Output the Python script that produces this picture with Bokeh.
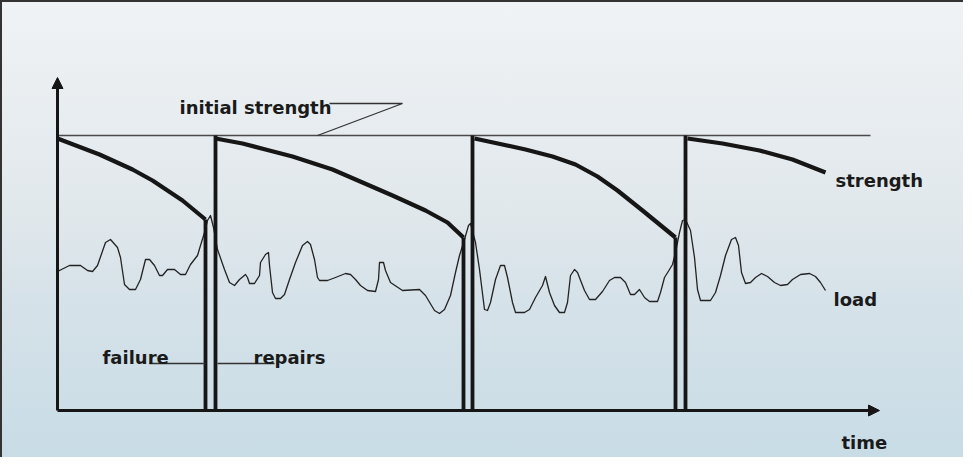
from bokeh.plotting import figure
from bokeh.models import Range1d, Arrow, NormalHead
from bokeh.embed import file_html
from bokeh.resources import INLINE
from bokeh.core.properties import value

# ---------------- data (time units, strength/load level units) ----------------
INITIAL_STRENGTH = 110.0
AXIS_TIME_END = 82.2
AXIS_LEVEL_END = 133.2
INITIAL_LINE_END = 81.3

# strength decay between repairs
s1_t = [0.0, 4.2, 7.5, 9.5, 12.5, 14.8]
s1_v = [108.8, 102.4, 96.4, 92.0, 84.0, 76.4]
s2_t = [15.8, 18.5, 20.8, 23.5, 27.5, 30.5, 33.5, 36.8, 39.0, 40.6]
s2_v = [108.8, 106.8, 104.4, 101.6, 96.4, 91.2, 86.0, 80.0, 75.2, 69.2]
s3_t = [41.7, 46.8, 49.5, 51.8, 54.0, 56.0, 58.5, 61.8]
s3_v = [108.8, 104.4, 101.6, 98.4, 93.6, 88.0, 80.0, 69.2]
s4_t = [63.0, 66.5, 70.2, 73.5, 76.8]
s4_v = [108.8, 106.8, 104.0, 100.4, 95.2]

failure_times = [14.8, 40.6, 61.8]
repair_times = [15.8, 41.5, 62.8]

# fluctuating load
load_t = [0.0, 0.2, 1.2, 2.3, 3.0, 3.5, 4.0, 4.8, 5.3, 6.0, 6.3, 6.7, 7.2, 7.8, 8.3, 8.8,
          9.2, 9.7, 10.2, 10.5, 11.0, 11.7, 12.3, 12.8, 13.3, 14.0, 14.3, 14.7, 15.0, 15.3,
          15.6, 16.0, 16.7, 17.2, 17.7, 18.2, 18.8, 19.0, 19.2, 19.7, 20.2, 20.3, 20.8, 21.1,
          21.2, 21.5, 21.8, 22.3, 22.7, 23.2, 23.8, 24.5, 25.0, 25.3, 25.7, 26.0, 26.2, 27.0,
          27.8, 28.8, 29.3, 29.8, 30.3, 31.0, 31.8, 32.1, 32.2, 32.6, 32.8, 33.3, 34.5, 36.2,
          36.8, 37.7, 38.2, 38.7, 39.3, 39.8, 40.2, 40.7, 41.1, 41.3, 41.8, 42.2, 42.7, 43.0,
          43.3, 43.8, 44.3, 44.7, 45.0, 45.5, 45.8, 46.7, 47.2, 47.8, 48.5, 48.8, 49.2, 49.7,
          50.2, 50.7, 51.0, 51.3, 51.7, 52.0, 52.7, 53.2, 53.8, 54.5, 55.2, 55.7, 56.3, 56.8,
          57.3, 57.7, 58.2, 58.7, 59.2, 60.0, 60.3, 60.7, 61.2, 61.5, 61.8, 62.2, 62.5, 62.8,
          63.3, 63.7, 64.0, 64.3, 65.3, 65.8, 66.3, 66.8, 67.4, 67.8, 68.1, 68.4, 68.8, 69.3,
          69.8, 70.4, 71.0, 71.7, 72.3, 73.0, 73.5, 74.3, 75.2, 75.8, 76.3, 76.8]
load_v = [56.0, 56.0, 58.0, 58.0, 56.0, 55.6, 58.0, 67.2, 68.4, 65.2, 61.2, 50.4, 48.4, 48.4, 52.4, 60.4,
          60.4, 58.0, 54.0, 54.0, 56.4, 56.4, 54.4, 54.4, 58.4, 62.0, 66.0, 71.2, 76.0, 78.0,
          73.2, 64.4, 56.4, 51.2, 50.0, 52.4, 54.4, 53.2, 50.8, 50.8, 54.0, 59.2, 62.4, 63.2,
          58.0, 47.2, 44.8, 44.8, 46.4, 52.4, 59.2, 66.0, 67.6, 66.4, 60.4, 53.2, 52.0, 52.0,
          53.2, 54.8, 54.4, 52.4, 50.0, 48.0, 47.6, 52.4, 59.2, 59.2, 56.0, 51.2, 48.0, 48.4,
          46.0, 40.0, 38.8, 40.4, 46.0, 55.2, 62.0, 68.4, 74.0, 74.8, 67.2, 56.4, 40.4, 40.0,
          43.2, 52.4, 58.0, 58.0, 53.2, 43.2, 39.2, 39.2, 40.4, 45.2, 50.0, 53.6, 47.2, 42.0,
          39.2, 39.2, 43.2, 54.0, 56.4, 55.2, 48.0, 44.4, 44.4, 47.6, 52.0, 53.2, 53.2, 51.2,
          46.4, 46.4, 48.4, 45.2, 43.6, 43.6, 47.2, 53.2, 56.4, 58.4, 63.2, 71.2, 76.0, 76.4,
          72.0, 61.2, 48.4, 44.0, 44.0, 47.2, 54.0, 62.0, 68.4, 69.2, 66.0, 55.2, 50.8, 51.2,
          53.2, 54.8, 53.6, 51.2, 50.0, 50.4, 52.4, 54.4, 54.8, 53.6, 51.2, 48.0]

# labels
label_text = ["initial strength", "strength", "load", "failure", "repairs", "time"]
label_t = [12.2, 77.8, 77.6, 4.5, 19.6, 78.4]
label_v = [121.2, 92.0, 44.4, 21.2, 21.2, -12.8]

# leader lines
init_leader_t = [27.2, 34.5, 26.0]
init_leader_v = [122.8, 122.8, 110.0]
failure_leader_t = [9.2, 14.8]
repairs_leader_t = [16.0, 21.7]
leader_level = 18.8

# ---------------- figure ----------------
W, H = 963, 457
p = figure(width=W, height=H, output_backend="svg", toolbar_location=None,
           x_range=Range1d(-5.5, 90.8), y_range=Range1d(-19.6, 163.2),
           min_border=0, min_border_left=0, min_border_right=0,
           min_border_top=0, min_border_bottom=0,
           x_axis_location=None, y_axis_location=None,
           styles={"background": "linear-gradient(to bottom, #f0f3f5 0%, #ebeff2 15%, #e1e8ec 45%, #d6e2e9 65%, #c8dce6 100%)",
                   "border-top": "2px solid #333333",
                   "border-left": "2px solid #333333"})
p.background_fill_color = None
p.border_fill_color = None
p.outline_line_color = None
p.grid.visible = False

ink = "#161616"

# initial strength reference line
p.line([0, INITIAL_LINE_END], [INITIAL_STRENGTH, INITIAL_STRENGTH], line_color="#4a4a4a", line_width=1.5)

# load
p.line(load_t, load_v, line_color="#222222", line_width=1.3, line_join="round")

# strength curves
for ts, vs in [(s1_t, s1_v), (s2_t, s2_v), (s3_t, s3_v), (s4_t, s4_v)]:
    p.line(ts, vs, line_color=ink, line_width=4.2, line_join="round")

# failure drops and repair jumps
fail_levels = [s1_v[-1], s2_v[-1], s3_v[-1]]
p.segment(x0=failure_times, y0=[0] * 3, x1=failure_times, y1=fail_levels,
          line_color=ink, line_width=3.8)
p.segment(x0=repair_times, y0=[0] * 3, x1=repair_times, y1=[INITIAL_STRENGTH] * 3,
          line_color=ink, line_width=3.8)

# axes with arrows
p.add_layout(Arrow(end=NormalHead(size=11, fill_color=ink, line_color=ink),
                   x_start=0, y_start=0, x_end=AXIS_TIME_END, y_end=0,
                   line_color=ink, line_width=3))
p.add_layout(Arrow(end=NormalHead(size=11, fill_color=ink, line_color=ink),
                   x_start=0, y_start=0, x_end=0, y_end=AXIS_LEVEL_END,
                   line_color=ink, line_width=3))

# leaders
p.line(init_leader_t, init_leader_v, line_color="#333333", line_width=1.3)
p.line(failure_leader_t, [leader_level] * 2, line_color="#333333", line_width=1.3)
p.line(repairs_leader_t, [leader_level] * 2, line_color="#333333", line_width=1.3)

# texts
p.text(x=label_t, y=label_v, text=label_text, text_font=value("DejaVu Sans"),
       text_font_style="bold", text_font_size="18px", text_color="#1a1a1a",
       text_align="left", text_baseline="alphabetic")

open("out.html", "w").write(file_html(p, INLINE))
